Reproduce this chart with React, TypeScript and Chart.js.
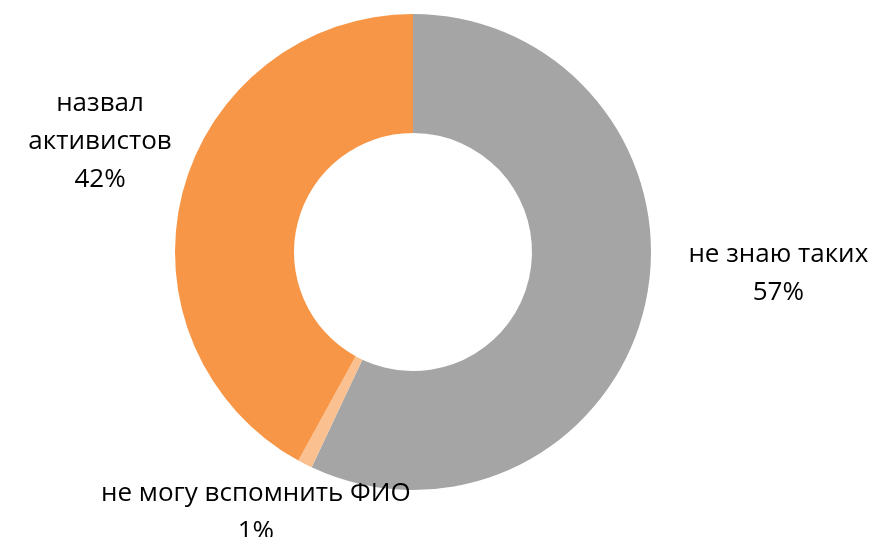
import React, { useEffect, useRef } from "react";
import { Chart, registerables } from "chart.js";

Chart.register(...registerables);

const categories = ["не знаю таких", "не могу вспомнить ФИО", "назвал активистов"];
const values = [57, 1, 42];
const labelLines = [["не знаю таких", "57%"], ["не могу вспомнить ФИО", "1%"], ["назвал", "активистов", "42%"]];
const colors = ["#A5A5A5", "#FAC090", "#F79646"];

const FONT = "26px 'Open Sans', sans-serif";

const labelPlugin = {
  id: "sliceLabels",
  afterDraw(chart: any) {
    const ctx = chart.ctx;
    const meta = chart.getDatasetMeta(0);
    const arc0 = meta.data[0] as any;
    const cx = arc0.x;
    const cy = arc0.y;
    const R = arc0.outerRadius;
    // label block centers relative to donut center, in units of outer radius
    const anchors = [
      { dx: 1.535, dy: 0.09 },
      { dx: -0.66, dy: 1.095 },
      { dx: -1.315, dy: -0.465 },
    ];
    const lineH = 38;
    ctx.save();
    ctx.font = FONT;
    ctx.fillStyle = "#000";
    ctx.textAlign = "center";
    ctx.textBaseline = "middle";
    labelLines.forEach((lines, i) => {
      const a = anchors[i];
      const x = cx + a.dx * R;
      const y0 = cy + a.dy * R - ((lines.length - 1) * lineH) / 2;
      lines.forEach((t, j) => ctx.fillText(t, x, y0 + j * lineH));
    });
    ctx.restore();
  },
};

export default function App() {
  const ref = useRef<HTMLCanvasElement>(null);
  useEffect(() => {
    document.body.style.margin = "0";
    const chart = new Chart(ref.current!, {
      type: "doughnut",
      data: {
        labels: categories,
        datasets: [
          {
            data: values,
            backgroundColor: colors,
            borderWidth: 0,
          },
        ],
      },
      options: {
        animation: false,
        responsive: false,
        cutout: "50%",
        layout: { padding: { left: 175, right: 224, top: 14, bottom: 47 } },
        plugins: { legend: { display: false }, tooltip: { enabled: false } },
      },
      plugins: [labelPlugin],
    });
    return () => chart.destroy();
  }, []);
  return (
    <div style={{ width: 875, height: 537, background: "#fff" }}>
      <canvas ref={ref} width={875} height={537} />
    </div>
  );
}
